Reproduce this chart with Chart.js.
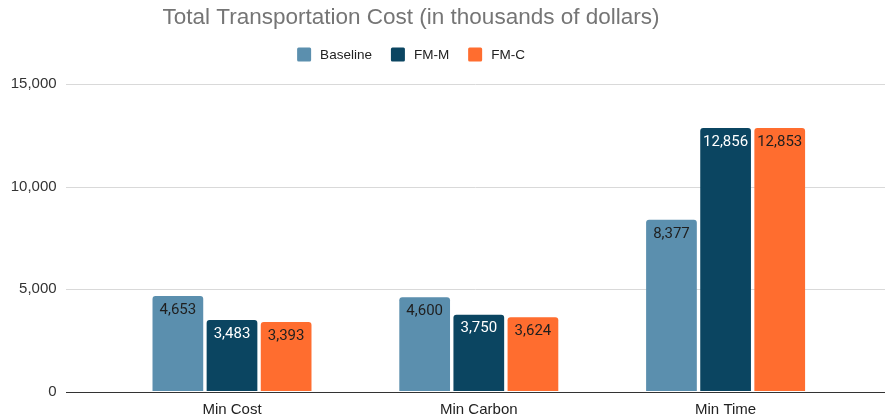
<!DOCTYPE html>
<html>
<head>
<meta charset="utf-8">
<script src="https://cdn.jsdelivr.net/npm/chart.js@4/dist/chart.umd.min.js"></script>
<style>
  html, body { margin: 0; padding: 0; background: #ffffff; overflow: hidden; }
  #chart { display: block; }
</style>
</head>
<body>
<canvas id="chart" width="885" height="417"></canvas>
<script>
// Total transportation cost per scenario, in thousands of dollars
const titleText = 'Total Transportation Cost (in thousands of dollars)';
const categories = ['Min Cost', 'Min Carbon', 'Min Time'];
const baseline = [4653, 4600, 8377];
const fmM = [3483, 3750, 12856];
const fmC = [3393, 3624, 12853];
const yTicks = [0, 5000, 10000, 15000];

const seriesNames = ['Baseline', 'FM-M', 'FM-C'];
const seriesColors = ['#5b8fae', '#0b4561', '#ff6d2f'];
const labelColors = ['#1f1f1f', '#ffffff', '#1f1f1f'];

const fmt = v => v.toLocaleString('en-US');
const TITLE_CENTER_X = 411;

// Horizontal grid lines spanning the full width, including the axis gutter
const gridPlugin = {
  id: 'wideGrid',
  beforeDatasetsDraw(chart) {
    const ctx = chart.ctx;
    const y = chart.scales.y;
    ctx.save();
    yTicks.forEach(t => {
      const py = Math.round(y.getPixelForValue(t)) + 0.5;
      ctx.beginPath();
      ctx.strokeStyle = t === 0 ? '#333333' : '#d9d9d9';
      ctx.lineWidth = t === 0 ? 1.2 : 1;
      ctx.moveTo(66, py);
      ctx.lineTo(885, py);
      ctx.stroke();
    });
    ctx.restore();
  }
};

// Value labels just inside the top of each bar
const valueLabels = {
  id: 'valueLabels',
  afterDatasetsDraw(chart) {
    const ctx = chart.ctx;
    ctx.save();
    ctx.font = '15px Roboto';
    ctx.textAlign = 'center';
    ctx.textBaseline = 'middle';
    chart.data.datasets.forEach((ds, di) => {
      chart.getDatasetMeta(di).data.forEach((bar, i) => {
        ctx.fillStyle = labelColors[di];
        ctx.fillText(fmt(ds.data[i]), bar.x, bar.y + 14);
      });
    });
    ctx.restore();
  }
};

// Title and legend row, centred over the plot
const header = {
  id: 'header',
  afterDraw(chart) {
    const ctx = chart.ctx;
    ctx.save();
    ctx.font = '22.5px "Liberation Sans", Arial, sans-serif';
    ctx.fillStyle = '#757575';
    ctx.textAlign = 'center';
    ctx.textBaseline = 'alphabetic';
    ctx.fillText(titleText, TITLE_CENTER_X, 24);

    ctx.font = '13.5px "Liberation Sans", Arial, sans-serif';
    const box = 14, gapText = 9, gapItem = 19;
    const widths = seriesNames.map(n => ctx.measureText(n).width);
    let total = 0;
    widths.forEach((w, i) => { total += box + gapText + w + (i < widths.length - 1 ? gapItem : 0); });
    let x = TITLE_CENTER_X - total / 2;
    const cy = 54.5;
    ctx.textAlign = 'left';
    ctx.textBaseline = 'middle';
    seriesNames.forEach((n, i) => {
      ctx.fillStyle = seriesColors[i];
      ctx.beginPath();
      ctx.roundRect(x, cy - box / 2, box, box, 1.5);
      ctx.fill();
      ctx.fillStyle = '#222222';
      ctx.fillText(n, x + box + gapText, cy + 0.5);
      x += box + gapText + widths[i] + gapItem;
    });
    ctx.restore();
  }
};

const seriesData = [baseline, fmM, fmC];

new Chart(document.getElementById('chart'), {
  type: 'bar',
  data: {
    labels: categories,
    datasets: seriesNames.map((name, i) => ({
      label: name,
      data: seriesData[i],
      backgroundColor: seriesColors[i],
      borderRadius: 3,
      borderSkipped: 'bottom',
      categoryPercentage: 0.658,
      barPercentage: 0.937
    }))
  },
  options: {
    responsive: false,
    animation: false,
    devicePixelRatio: 1,
    layout: { padding: { top: 84, right: 36, left: 0, bottom: 0 } },
    plugins: {
      legend: { display: false },
      title: { display: false },
      tooltip: { enabled: false }
    },
    scales: {
      x: {
        grid: { display: false, drawTicks: false },
        border: { display: false },
        ticks: {
          color: '#222222',
          padding: 9,
          font: { family: '"Liberation Sans", Arial, sans-serif', size: 15 }
        },
        afterFit(scale) { scale.height = 25.5; }
      },
      y: {
        min: 0,
        max: 15000,
        // tick marks reserve the gap between labels and plot; lines come from wideGrid
        grid: { display: true, drawOnChartArea: false, drawTicks: true, tickLength: 52, tickColor: 'rgba(0,0,0,0)' },
        border: { display: false },
        afterBuildTicks(scale) { scale.ticks = yTicks.map(v => ({ value: v })); },
        ticks: {
          color: '#333333',
          padding: 0,
          font: { family: '"Liberation Sans", Arial, sans-serif', size: 15 },
          callback: v => fmt(v)
        },
        afterFit(scale) { scale.width = 108.6; }
      }
    }
  },
  plugins: [gridPlugin, valueLabels, header]
});
</script>
</body>
</html>
